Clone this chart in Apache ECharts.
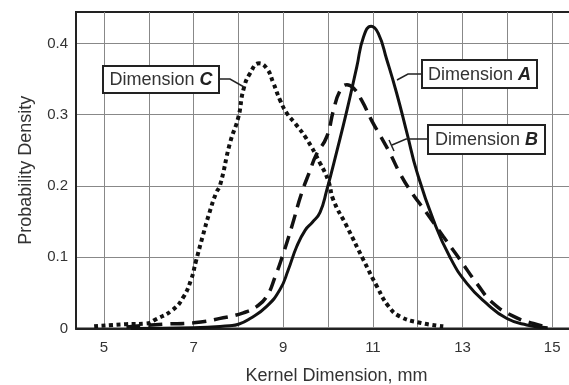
<!DOCTYPE html>
<html>
<head>
<meta charset="utf-8">
<script src="https://cdn.jsdelivr.net/npm/echarts@6/dist/echarts.min.js"></script>
<style>
html,body{margin:0;padding:0;background:#fff;}
#chart{width:569px;height:385px;}
</style>
</head>
<body>
<div id="chart"></div>
<script>
// ---- data ----
const xTickValues = [5, 6, 7, 8, 9, 10, 11, 12, 13, 14, 15, 16];
const xTickLabels = [5, 7, 9, 11, 13, 15];
const yTickLabels = [0, 0.1, 0.2, 0.3, 0.4];

const dimAx = [5.6, 7.0, 7.8, 8.0, 8.26, 8.63, 8.93, 9.11, 9.3, 9.49, 9.65, 9.82, 9.97, 10.2, 10.42, 10.64, 10.79, 10.96, 11.12, 11.31, 11.53, 11.76, 11.98, 12.35, 12.72, 13.1, 13.54, 13.99, 14.43, 14.9];
const dimAy = [0.0, 0.001, 0.004, 0.006, 0.014, 0.031, 0.055, 0.082, 0.115, 0.138, 0.149, 0.163, 0.194, 0.25, 0.306, 0.367, 0.409, 0.424, 0.414, 0.377, 0.33, 0.274, 0.22, 0.152, 0.1, 0.063, 0.035, 0.014, 0.005, 0.001];

const dimBx = [5.5, 6.3, 7.0, 7.66, 8.11, 8.41, 8.63, 8.82, 9.0, 9.19, 9.41, 9.6, 9.73, 9.97, 10.12, 10.27, 10.42, 10.57, 10.75, 10.97, 11.16, 11.38, 11.6, 11.83, 12.2, 12.57, 12.95, 13.32, 13.69, 14.14, 14.58, 14.9];
const dimBy = [0.002, 0.006, 0.008, 0.015, 0.022, 0.031, 0.045, 0.073, 0.105, 0.143, 0.19, 0.222, 0.243, 0.269, 0.306, 0.334, 0.342, 0.337, 0.32, 0.292, 0.271, 0.246, 0.218, 0.194, 0.162, 0.129, 0.096, 0.063, 0.035, 0.017, 0.007, 0.002];

const dimCx = [4.78, 5.49, 5.94, 6.16, 6.53, 6.76, 6.94, 7.05, 7.2, 7.35, 7.5, 7.59, 7.81, 8.0, 8.11, 8.26, 8.46, 8.63, 8.78, 8.93, 9.08, 9.26, 9.52, 9.82, 10.0, 10.12, 10.42, 10.79, 11.09, 11.35, 11.6, 12.05, 12.57];
const dimCy = [0.003, 0.006, 0.007, 0.013, 0.026, 0.043, 0.068, 0.094, 0.129, 0.162, 0.19, 0.201, 0.26, 0.297, 0.335, 0.358, 0.372, 0.365, 0.344, 0.32, 0.302, 0.288, 0.266, 0.232, 0.208, 0.18, 0.143, 0.096, 0.059, 0.031, 0.017, 0.008, 0.003];

const seriesNames = ['Dimension A', 'Dimension B', 'Dimension C'];

// ---- chart ----
const pairs = (xs, ys) => xs.map((x, i) => [x, ys[i]]);
const FONT = '"Liberation Sans", Arial, Helvetica, sans-serif';
const chart = echarts.init(document.getElementById('chart'), null, {renderer: 'canvas'});

const baseLine = {
  type: 'line', showSymbol: false, symbol: 'none', smooth: 0.5,
  silent: true, animation: false
};

const option = {
  animation: false,
  backgroundColor: '#fff',
  grid: {
    left: 76, top: 12, height: 316.5, width: 521,
    outerBoundsMode: 'none',
    show: true, borderColor: '#222', borderWidth: 2, backgroundColor: 'transparent',
    containLabel: false
  },
  xAxis: {
    type: 'value', min: 4.375, max: 16,
    name: 'Kernel Dimension, mm', nameLocation: 'middle', nameGap: 39,
    nameTextStyle: {fontFamily: FONT, fontSize: 18, color: '#333'},
    axisLine: {show: true, onZero: false, lineStyle: {color: '#222', width: 2}},
    axisTick: {show: false, customValues: xTickValues},
    axisLabel: {customValues: xTickLabels, fontFamily: FONT, fontSize: 15, color: '#333', margin: 12},
    splitLine: {show: true, lineStyle: {color: '#888', width: 1}}
  },
  yAxis: {
    type: 'value', min: 0, max: 0.444,
    name: 'Probability Density', nameLocation: 'middle', nameGap: 41,
    nameTextStyle: {fontFamily: FONT, fontSize: 18, color: '#333'},
    axisLine: {show: true, lineStyle: {color: '#222', width: 2}},
    axisTick: {show: false, customValues: yTickLabels},
    axisLabel: {customValues: yTickLabels, fontFamily: FONT, fontSize: 15, color: '#333', margin: 8},
    splitLine: {show: true, lineStyle: {color: '#888', width: 1}}
  },
  series: [
    Object.assign({}, baseLine, {
      name: seriesNames[0], data: pairs(dimAx, dimAy), z: 5,
      lineStyle: {color: '#111', width: 3}
    }),
    Object.assign({}, baseLine, {
      name: seriesNames[1], data: pairs(dimBx, dimBy), z: 4,
      lineStyle: {color: '#111', width: 3.5, type: [14, 8], cap: 'butt'}
    }),
    Object.assign({}, baseLine, {
      name: seriesNames[2], data: pairs(dimCx, dimCy), z: 3,
      lineStyle: {color: '#111', width: 4, type: [4, 3.5], cap: 'butt'}
    })
  ]
};
chart.setOption(option);

// ---- annotation boxes with leader lines ----
function labelBox(x, y, w, h, name, letter) {
  return [
    {type: 'rect', shape: {x: x, y: y, width: w, height: h}, z: 100,
     style: {fill: '#fff', stroke: '#222', lineWidth: 2}},
    {type: 'text', x: x + w / 2, y: y + h / 2 + 1, z: 101,
     style: {
       text: '{n|' + name + ' }{b|' + letter + '}',
       align: 'center', verticalAlign: 'middle',
       rich: {
         n: {fontFamily: FONT, fontSize: 18, fill: '#333', color: '#333'},
         b: {fontFamily: FONT, fontSize: 18, fontWeight: 'bold', fontStyle: 'italic', fill: '#222', color: '#222'}
       }
     }}
  ];
}
function leader(points) {
  return {type: 'polyline', z: 99, shape: {points: points},
          style: {stroke: '#222', lineWidth: 1.5, fill: null}};
}
const g = [].concat(
  labelBox(103, 66, 116, 27, 'Dimension', 'C'),
  [leader([[219, 79], [230, 79], [244, 87]])],
  labelBox(422, 60, 115, 28, 'Dimension', 'A'),
  [leader([[422, 74], [408, 74], [397, 80]])],
  labelBox(428, 125, 117, 29, 'Dimension', 'B'),
  [leader([[428, 139], [406, 139], [392, 145]]), leader([[389, 140], [394, 151]])]
);
chart.setOption({graphic: g});
</script>
</body>
</html>
